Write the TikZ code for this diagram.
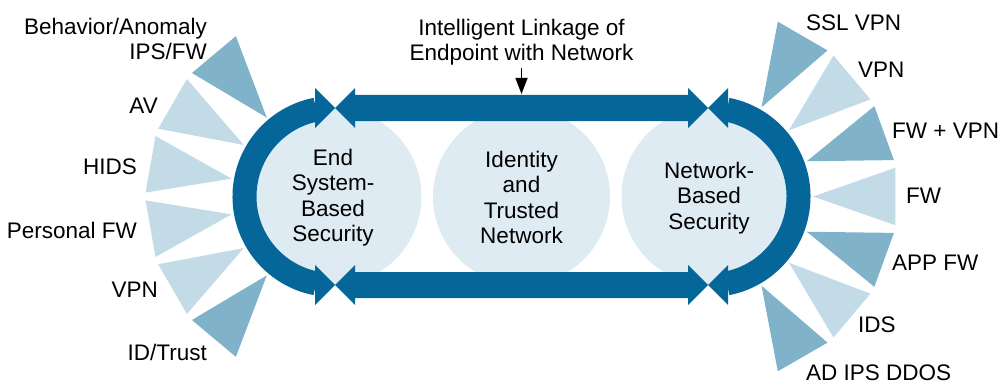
\documentclass[tikz,border=0pt]{standalone}
\usepackage{fontspec}
\setmainfont{Liberation Sans}
\usetikzlibrary{arrows.meta,calc}
\definecolor{ringblue}{RGB}{5,103,153}
\definecolor{fanmid}{RGB}{128,178,202}
\definecolor{fanlight}{RGB}{194,219,230}
\definecolor{discfill}{RGB}{222,235,242}
\begin{document}
\begin{tikzpicture}[x=1pt,y=-1pt,
  lbl/.style={font=\fontsize{22.5}{25.5}\selectfont, inner sep=0pt, text=black},
  disc/.style={fill=discfill},
  ring/.style={draw=ringblue, line width=24pt},
  tipfill/.style={fill=ringblue},
  pointer/.style={draw=black, line width=1.4pt, -{Triangle[length=16pt,width=12pt]}}
]
\useasboundingbox (0,0) rectangle (1008,385);

% centres of the three discs
\coordinate (L) at (333,196.5);
\coordinate (M) at (521.5,196.5);
\coordinate (R) at (710,196.5);

% light discs
\fill[disc] (L) circle[radius=88.5];
\fill[disc] (M) circle[radius=88.5];
\fill[disc] (R) circle[radius=88.5];

% left fan of wedges
\foreach \a/\c in {130/fanmid,150/fanlight,170/fanlight,190/fanlight,210/fanlight,230/fanmid}
  \fill[\c] ($(L)+(\a:103)$) -- ($(L)+({\a+8.8}:187.5)$) -- ($(L)+({\a-8.8}:187.5)$) -- cycle;

% right fan of wedges
\foreach \a/\c in {60/fanmid,40/fanlight,20/fanmid,0/fanlight,-20/fanmid,-40/fanlight,-60/fanmid}
  \fill[\c] ($(R)+(\a:103)$) -- ($(R)+({\a+8.8}:187.5)$) -- ($(R)+({\a-8.8}:187.5)$) -- cycle;

% curved arrows
\draw[ring] ($(L)+(101:88.5)$) arc[start angle=101, end angle=259, radius=88.5];
\fill[tipfill] (315,88) -- (335,108) -- (315,128) -- cycle;
\fill[tipfill] (315,265) -- (335,285) -- (315,305) -- cycle;

\draw[ring] ($(R)+(-79:88.5)$) arc[start angle=-79, end angle=79, radius=88.5];
\fill[tipfill] (728,88) -- (708,108) -- (728,128) -- cycle;
\fill[tipfill] (728,265) -- (708,285) -- (728,305) -- cycle;

% straight double arrows
\fill[tipfill] (335,108) -- (355,88) -- (355,95) -- (688,95) -- (688,88) -- (708,108)
  -- (688,128) -- (688,121) -- (355,121) -- (355,128) -- cycle;
\fill[tipfill] (335,285) -- (355,265) -- (355,272) -- (688,272) -- (688,265) -- (708,285)
  -- (688,305) -- (688,298) -- (355,298) -- (355,305) -- cycle;

% disc captions
\node[lbl, align=center] (endsys) at (333,197.5) {End\\System-\\Based\\Security};
\node[lbl, align=center] (ident) at (521.5,197.5) {Identity\\and\\Trusted\\Network};
\node[lbl, align=center] (netsec) at (709,198) {Network-\\Based\\Security};

% linkage caption with pointer
\node[lbl, align=center] (link) at (521.5,42) {Intelligent Linkage of\\Endpoint with Network};
\coordinate (linkend) at (521.5,94);
\path (link.south) ++(0,3) coordinate (linkstart);
\draw[pointer] (linkstart) -- (linkend);

% left labels
\node[lbl, anchor=east, align=right] (bhv) at (207,39) {Behavior/Anomaly\\IPS/FW};
\node[lbl, anchor=east] (av) at (158,106) {AV};
\node[lbl, anchor=east] (hids) at (137,167) {HIDS};
\node[lbl, anchor=east] (pfw) at (137,230) {Personal FW};
\node[lbl, anchor=east] (vpnl) at (158,290) {VPN};
\node[lbl, anchor=east] (idt) at (207,352) {ID/Trust};

% right labels
\node[lbl, anchor=west] (ssl) at (806,23) {SSL VPN};
\node[lbl, anchor=west] (vpnr) at (858,70) {VPN};
\node[lbl, anchor=west] (fwvpn) at (892,131) {FW + VPN};
\node[lbl, anchor=west] (fw) at (906,196) {FW};
\node[lbl, anchor=west] (appfw) at (892,263) {APP FW};
\node[lbl, anchor=west] (ids) at (858,325) {IDS};
\node[lbl, anchor=west] (adips) at (806,373) {AD IPS DDOS};
\end{tikzpicture}
\end{document}
